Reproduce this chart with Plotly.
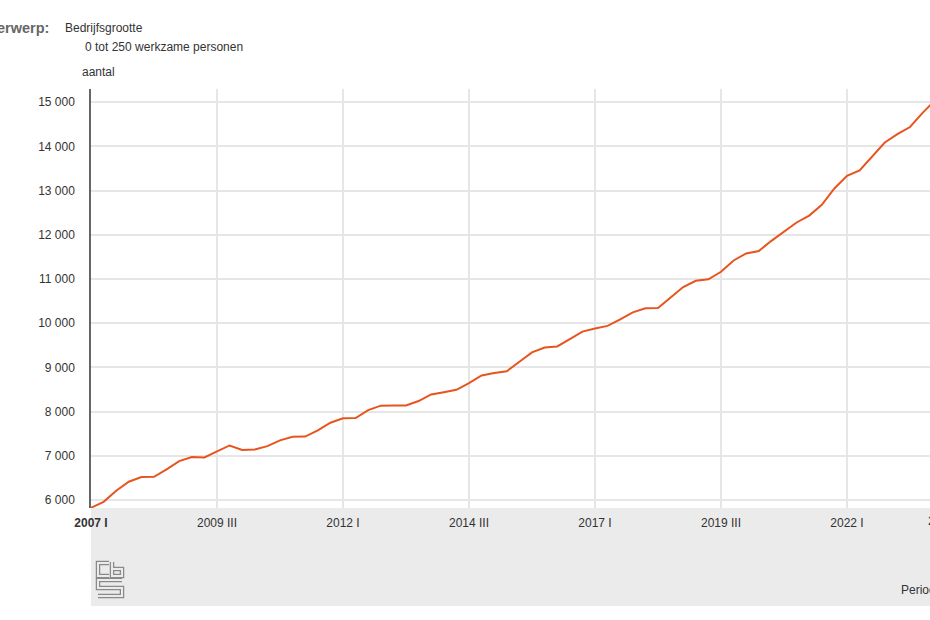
import plotly.graph_objects as go

# ---- data ----
years = list(range(2007, 2024))
quarter_names = ["I", "II", "III", "IV"]
periods = [f"{y} {q}" for y in years for q in quarter_names]

values = [
    5825, 5960, 6210, 6415,      # 2007
    6520, 6525, 6695, 6880,      # 2008
    6975, 6965, 7100, 7235,      # 2009
    7135, 7145, 7220, 7350,      # 2010
    7430, 7435, 7575, 7750,      # 2011
    7850, 7855, 8035, 8135,      # 2012
    8140, 8140, 8240, 8390,      # 2013
    8440, 8495, 8645, 8820,      # 2014
    8875, 8915, 9130, 9340,      # 2015
    9450, 9475, 9640, 9810,      # 2016
    9880, 9940, 10090, 10245,    # 2017
    10340, 10345, 10585, 10820,  # 2018
    10960, 10995, 11165, 11420,  # 2019
    11580, 11635, 11865, 12065,  # 2020
    12280, 12435, 12680, 13050,  # 2021
    13335, 13460, 13780, 14090,  # 2022
    14280, 14440, 14760, 15050,  # 2023
]

x_tick_vals = ["2007 I", "2009 III", "2012 I", "2014 III", "2017 I", "2019 III", "2022 I"]
x_tick_text = ["<b>2007 I</b>", "2009 III", "2012 I", "2014 III", "2017 I", "2019 III", "2022 I"]
y_tick_vals = [6000, 7000, 8000, 9000, 10000, 11000, 12000, 13000, 14000, 15000]
y_tick_text = ["6 000", "7 000", "8 000", "9 000", "10 000", "11 000", "12 000", "13 000", "14 000", "15 000"]

# ---- layout geometry (page pixels; body margin removed below) ----
W, H = 930, 620
PLOT_LEFT, PLOT_RIGHT, PLOT_TOP, PLOT_BOTTOM = 91, 930, 89, 508
L = PLOT_LEFT
R = W - PLOT_RIGHT
T = PLOT_TOP
B = H - PLOT_BOTTOM
PW, PH = W - L - R, H - T - B


def px(xp):
    """page pixel x -> paper coordinate"""
    return (xp - PLOT_LEFT) / PW


def py(yp):
    """page pixel y -> paper coordinate"""
    return (PLOT_BOTTOM - yp) / PH


FONT = "Arial, 'Liberation Sans', sans-serif"

fig = go.Figure()
fig.add_trace(go.Scatter(
    x=periods, y=values, mode="lines",
    line=dict(color="#e8541e", width=2),
    hoverinfo="x+y", showlegend=False,
))

shapes = []
# grey band under the plot (x-axis area)
shapes.append(dict(type="rect", xref="paper", yref="paper",
                   x0=0, x1=1, y0=py(606), y1=0,
                   fillcolor="#ebebeb", line=dict(width=0), layer="below"))


def seg_path(points):
    return "M " + " L ".join(f"{px(a)},{py(b)}" for a, b in points)


# CBS logo (decoration)
logo_paths = [
    [(109, 563), (98, 563), (98, 576), (109, 576)],                         # "c"
    [(112, 562), (112, 576), (122, 576), (122, 569), (112, 569)],           # "b"
    [(122, 580), (98, 580), (98, 588), (122, 588), (122, 596), (98, 596)],  # "S"
]
for pts in logo_paths:
    shapes.append(dict(type="path", xref="paper", yref="paper", path=seg_path(pts),
                       line=dict(color="#8a8a8a", width=4.5)))
    shapes.append(dict(type="path", xref="paper", yref="paper", path=seg_path(pts),
                       line=dict(color="#ebebeb", width=2)))

annotations = [
    dict(text="<b>Onderwerp:</b>", x=px(51), y=py(28), xanchor="right", yanchor="middle",
         font=dict(size=14.5, color="#666666", family=FONT)),
    dict(text="Bedrijfsgrootte", x=px(63), y=py(28), xanchor="left", yanchor="middle",
         font=dict(size=12, color="#333333", family=FONT)),
    dict(text="0 tot 250 werkzame personen", x=px(83), y=py(47), xanchor="left", yanchor="middle",
         font=dict(size=12, color="#333333", family=FONT)),
    dict(text="aantal", x=px(80), y=py(72), xanchor="left", yanchor="middle",
         font=dict(size=12, color="#333333", family=FONT)),
    dict(text="Perioden", x=px(899), y=py(590), xanchor="left", yanchor="middle",
         font=dict(size=12, color="#333333", family=FONT)),
    dict(text="2024 III", x=px(926), y=py(521), xanchor="left", yanchor="middle",
         font=dict(size=12, color="#333333", family=FONT)),
]
for a in annotations:
    a.update(xref="paper", yref="paper", showarrow=False)

n_visible = (PLOT_RIGHT - PLOT_LEFT) / 12.6

fig.update_layout(
    width=W, height=H,
    margin=dict(l=L, r=R, t=T, b=B, pad=0),
    paper_bgcolor="white", plot_bgcolor="white",
    font=dict(family=FONT, size=12, color="#333333"),
    shapes=shapes, annotations=annotations,
    xaxis=dict(
        type="category", categoryorder="array", categoryarray=periods,
        range=[0, n_visible],
        tickvals=x_tick_vals, ticktext=x_tick_text,
        ticks="outside", ticklen=4, tickcolor="rgba(0,0,0,0)",
        showgrid=True, gridcolor="#e6e6e6", gridwidth=2,
        showline=False, zeroline=False,
        tickfont=dict(size=12, color="#333333", family=FONT),
        fixedrange=True,
    ),
    yaxis=dict(
        range=[5820, 15300],
        tickvals=y_tick_vals, ticktext=y_tick_text,
        ticks="outside", ticklen=12, tickcolor="rgba(0,0,0,0)",
        showgrid=True, gridcolor="#e6e6e6", gridwidth=2,
        showline=True, linecolor="#666666", linewidth=1.5,
        zeroline=False,
        tickfont=dict(size=12, color="#333333", family=FONT),
        fixedrange=True,
    ),
)

fig.write_html(
    "out.html",
    config={"displayModeBar": False},
    post_script="document.body.style.margin='0';document.body.style.overflow='hidden';",
)
